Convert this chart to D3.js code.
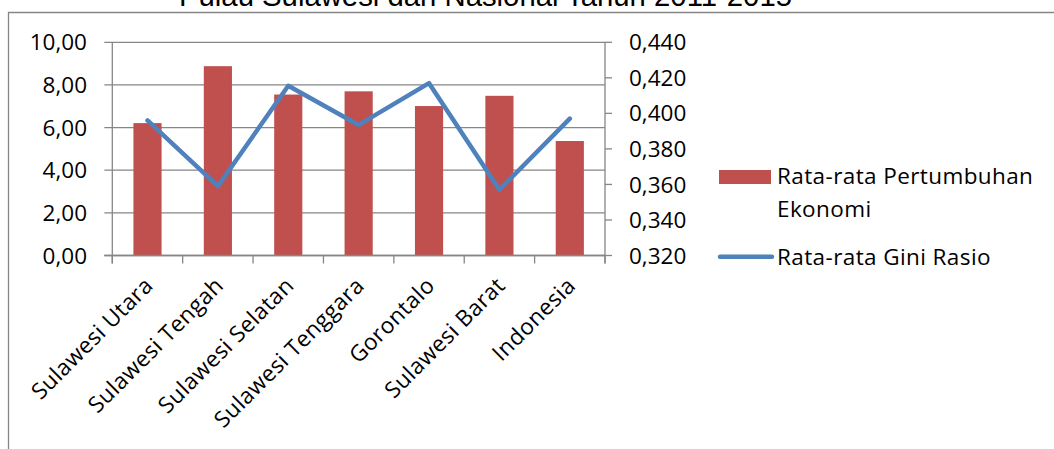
<!DOCTYPE html>
<html>
<head>
<meta charset="utf-8">
<script src="https://cdn.jsdelivr.net/npm/d3@7"></script>
<style>
  html, body { margin: 0; padding: 0; background: #fff; overflow: hidden; }
  svg { display: block; }
  text { font-family: "Open Sans", Lato, sans-serif; fill: #000; }
</style>
</head>
<body>
<svg id="chart" width="1054" height="449"></svg>
<script>
const categories = ["Sulawesi Utara", "Sulawesi Tengah", "Sulawesi Selatan", "Sulawesi Tenggara", "Gorontalo", "Sulawesi Barat", "Indonesia"];
const growth = [6.21, 8.88, 7.55, 7.70, 7.01, 7.49, 5.37];
const gini = [0.396, 0.359, 0.4155, 0.3935, 0.417, 0.357, 0.397];
const leftTicks = [0, 2, 4, 6, 8, 10];
const rightTicks = [0.32, 0.34, 0.36, 0.38, 0.40, 0.42, 0.44];
const seriesNames = ["Rata-rata Pertumbuhan Ekonomi", "Rata-rata Gini Rasio"];
const titleText = "Pulau Sulawesi dan Nasional Tahun 2011-2015";

const svg = d3.select("#chart");
const gray = "#868686";
const red = "#C0504D";
const blue = "#4F81BD";
const fs = 22.5;
const ls = "0.4px";

const plot = { left: 112.3, right: 605, top: 42.3, bottom: 255.5 };

// frame
svg.append("path")
  .attr("d", `M1060,12.5 H8.5 V460`)
  .attr("fill", "none").attr("stroke", gray).attr("stroke-width", 1.3);

// title (clipped at top)
svg.append("text")
  .attr("x", 179).attr("y", 6)
  .style("font-family", "'Liberation Sans', Arial, sans-serif")
  .style("font-size", "29.3px")
  .text(titleText);

const x = d3.scaleBand().domain(categories).range([plot.left, plot.right]).paddingInner(0).paddingOuter(0);
const yL = d3.scaleLinear().domain([0, 10]).range([plot.bottom, plot.top]);
const yR = d3.scaleLinear().domain([0.32, 0.44]).range([plot.bottom, plot.top]);

// gridlines + left ticks
svg.append("g").selectAll("line").data(leftTicks).join("line")
  .attr("x1", plot.left - 8).attr("x2", plot.right)
  .attr("y1", d => yL(d)).attr("y2", d => yL(d))
  .attr("stroke", gray).attr("stroke-width", 1.3);

// left axis line
svg.append("line").attr("x1", plot.left).attr("x2", plot.left)
  .attr("y1", plot.top).attr("y2", plot.bottom + 8)
  .attr("stroke", gray).attr("stroke-width", 1.3);

// left labels
svg.append("g").selectAll("text").data(leftTicks).join("text")
  .attr("x", 87).attr("y", d => yL(d)).attr("dy", "0.36em")
  .attr("text-anchor", "end").style("font-size", fs + "px")
  .text(d => d3.format(".2f")(d).replace(".", ","));

// bars
const bw = x.bandwidth() * 0.4;
svg.append("g").selectAll("rect").data(growth).join("rect")
  .attr("x", (d, i) => x(categories[i]) + x.bandwidth() / 2 - bw / 2)
  .attr("width", bw)
  .attr("y", d => yL(d))
  .attr("height", d => yL(0) - yL(d))
  .attr("fill", red);

// category ticks
const cTicks = categories.map(c => x(c)).concat([plot.right]);
svg.append("g").selectAll("line").data(cTicks).join("line")
  .attr("x1", d => d).attr("x2", d => d)
  .attr("y1", plot.bottom).attr("y2", plot.bottom + 8)
  .attr("stroke", gray).attr("stroke-width", 1.3);

// bottom axis line
svg.append("line").attr("x1", plot.left - 8).attr("x2", plot.right)
  .attr("y1", plot.bottom).attr("y2", plot.bottom)
  .attr("stroke", gray).attr("stroke-width", 1.3);

// right axis
svg.append("line").attr("x1", plot.right).attr("x2", plot.right)
  .attr("y1", plot.top).attr("y2", plot.bottom + 8)
  .attr("stroke", gray).attr("stroke-width", 1.3);
svg.append("g").selectAll("line").data(rightTicks).join("line")
  .attr("x1", plot.right).attr("x2", plot.right + 7)
  .attr("y1", d => yR(d)).attr("y2", d => yR(d))
  .attr("stroke", gray).attr("stroke-width", 1.3);
svg.append("g").selectAll("text").data(rightTicks).join("text")
  .attr("x", 629).attr("y", d => yR(d)).attr("dy", "0.36em")
  .style("font-size", fs + "px")
  .text(d => d3.format(".3f")(d).replace(".", ","));

// category labels
svg.append("g").selectAll("text").data(categories).join("text")
  .attr("transform", c => `translate(${x(c) + x.bandwidth() / 2 + 7},287) rotate(-45)`)
  .attr("text-anchor", "end").style("font-size", fs + "px").style("letter-spacing", ls)
  .text(c => c);

// line
const line = d3.line()
  .x((d, i) => x(categories[i]) + x.bandwidth() / 2)
  .y(d => yR(d));
svg.append("path").datum(gini)
  .attr("d", line)
  .attr("fill", "none").attr("stroke", blue).attr("stroke-width", 4.5)
  .attr("stroke-linejoin", "round").attr("stroke-linecap", "round");

// legend
svg.append("rect").attr("x", 719).attr("y", 170).attr("width", 52).attr("height", 14).attr("fill", red);
const lt = svg.append("text").attr("x", 777).attr("y", 184).style("font-size", fs + "px").style("letter-spacing", ls);
lt.append("tspan").attr("x", 777).attr("y", 184).text("Rata-rata Pertumbuhan");
lt.append("tspan").attr("x", 777).attr("y", 216.5).text("Ekonomi");
svg.append("line").attr("x1", 720).attr("x2", 772).attr("y1", 256.7).attr("y2", 256.7)
  .attr("stroke", blue).attr("stroke-width", 4.5).attr("stroke-linecap", "round");
svg.append("text").attr("x", 777).attr("y", 265).style("font-size", fs + "px").style("letter-spacing", ls).text(seriesNames[1]);
</script>
</body>
</html>
